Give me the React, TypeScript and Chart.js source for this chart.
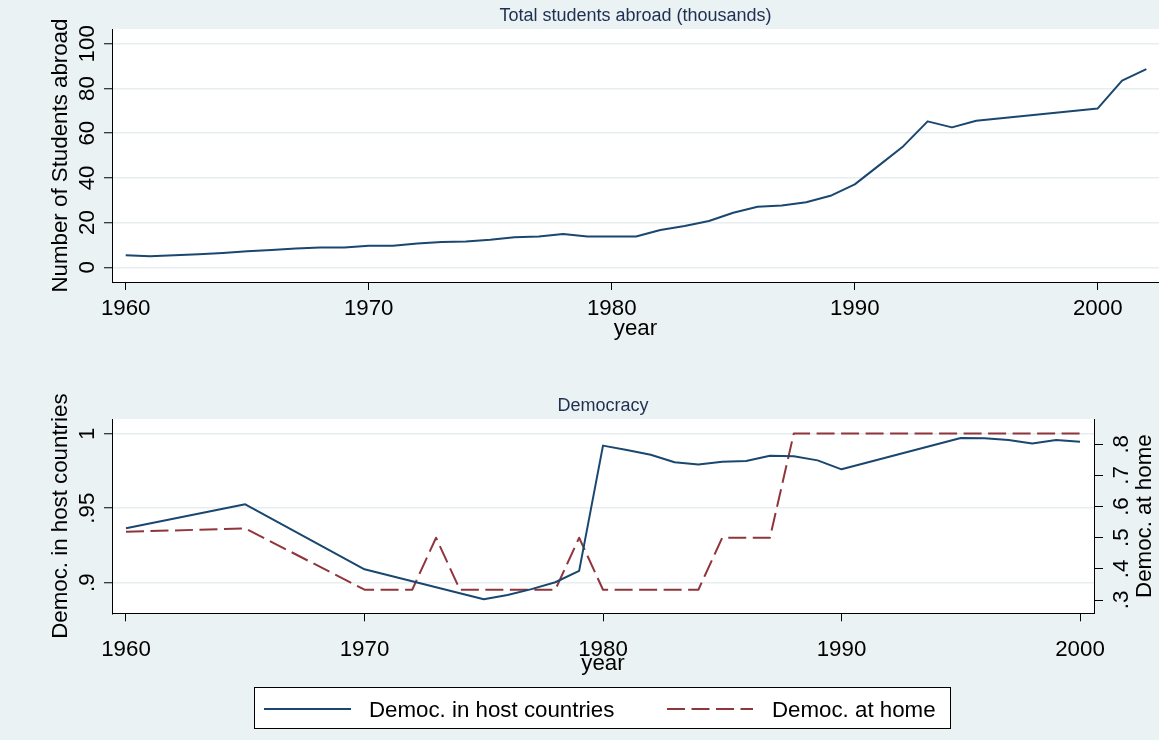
import React, { useEffect, useRef } from "react";
import { Chart, registerables } from "chart.js";

Chart.register(...registerables);

const FONT = "'Liberation Sans', Arial, Helvetica, sans-serif";
const NAVY = "#1a476f";
const MAROON = "#90353b";
const BG = "#eaf2f3";
const GRID = "#e6eef0";
const TITLE_COLOR = "#1f2f52";
const FS = 22.3;

// ---------- Top panel data ----------
const topYears = [
  1960, 1961, 1962, 1963, 1964, 1965, 1966, 1967, 1968, 1969,
  1970, 1971, 1972, 1973, 1974, 1975, 1976, 1977, 1978, 1979,
  1980, 1981, 1982, 1983, 1984, 1985, 1986, 1987, 1988, 1989,
  1990, 1991, 1992, 1993, 1994, 1995, 2000, 2001, 2002,
];
const studentsAbroad = [
  5.4, 5.0, 5.4, 5.8, 6.4, 7.2, 7.8, 8.4, 8.9, 8.9,
  9.7, 9.7, 10.7, 11.3, 11.6, 12.3, 13.5, 13.8, 14.9, 13.8,
  13.8, 13.8, 16.7, 18.5, 20.7, 24.4, 27.1, 27.7, 29.1, 32.0,
  37.1, 45.6, 54.2, 65.3, 62.6, 65.6, 71.1, 83.5, 88.7,
];
const topXTicks = [1960, 1970, 1980, 1990, 2000];
const topYTicks = [0, 20, 40, 60, 80, 100];
const topYTickLabels = ["0", "20", "40", "60", "80", "100"];

// ---------- Bottom panel data ----------
const hostYears = [
  1960, 1965, 1970, 1975, 1976, 1977, 1978, 1979, 1980, 1981, 1982,
  1983, 1984, 1985, 1986, 1987, 1988, 1989, 1990, 1995, 1996, 1997,
  1998, 1999, 2000,
];
const hostDemoc = [
  0.9365, 0.9526, 0.909, 0.8889, 0.8917, 0.8957, 0.9003, 0.9079, 0.992, 0.989, 0.9859,
  0.9808, 0.9794, 0.9812, 0.9817, 0.9852, 0.9848, 0.9821, 0.9761, 0.9971, 0.997, 0.9958,
  0.9935, 0.9958, 0.9946,
];
const homeYears = [
  1960, 1965, 1970, 1971, 1972, 1973, 1974, 1975, 1976, 1977, 1978, 1979,
  1980, 1981, 1982, 1983, 1984, 1985, 1986, 1987, 1988, 1989, 1990, 1991,
  1992, 1993, 1994, 1995, 1996, 1997, 1998, 1999, 2000,
];
const homeDemoc = [
  0.519, 0.53, 0.333, 0.333, 0.333, 0.5, 0.333, 0.333, 0.333, 0.333, 0.333, 0.5,
  0.333, 0.333, 0.333, 0.333, 0.333, 0.5, 0.5, 0.5, 0.835, 0.835, 0.835, 0.835,
  0.835, 0.835, 0.835, 0.835, 0.835, 0.835, 0.835, 0.835, 0.835,
];
const bottomXTicks = [1960, 1970, 1980, 1990, 2000];
const leftYTicks = [0.9, 0.95, 1];
const leftYTickLabels = [".9", ".95", "1"];
const rightYTicks = [0.3, 0.4, 0.5, 0.6, 0.7, 0.8];
const rightYTickLabels = [".3", ".4", ".5", ".6", ".7", ".8"];

const hostLabel = "Democ. in host countries";
const homeLabel = "Democ. at home";

type RotTick = { scaleId: string; side: "left" | "right"; offset: number; size: number };
type PluginCfg = {
  rotatedTicks: RotTick[];
  rightTitle?: { text: string; x: number; size: number; scaleId: string };
  legend?: {
    left: number; top: number; width: number; height: number;
    lineY: number; textY: number;
    items: { x1: number; x2: number; tx: number }[];
    size: number;
  };
};

function makeStataPlugin(cfg: PluginCfg) {
  return {
    id: "stataExtras",
    afterDraw(chart: any) {
      const ctx = chart.ctx as CanvasRenderingContext2D;
      ctx.save();
      cfg.rotatedTicks.forEach((r) => {
        const scale = chart.scales[r.scaleId];
        ctx.font = `${r.size}px ${FONT}`;
        ctx.fillStyle = "#000";
        ctx.textAlign = "center";
        ctx.textBaseline = "alphabetic";
        const bx = r.side === "left" ? scale.right - r.offset : scale.left + r.offset;
        scale.ticks.forEach((t: any) => {
          const py = scale.getPixelForValue(t.value);
          ctx.save();
          ctx.translate(bx, py);
          ctx.rotate(-Math.PI / 2);
          ctx.fillText(String(t.label), 0, 0);
          ctx.restore();
        });
      });
      if (cfg.rightTitle) {
        const rt = cfg.rightTitle;
        const scale = chart.scales[rt.scaleId];
        ctx.font = `${rt.size}px ${FONT}`;
        ctx.fillStyle = "#000";
        ctx.textAlign = "center";
        ctx.textBaseline = "alphabetic";
        ctx.save();
        ctx.translate(rt.x, (scale.top + scale.bottom) / 2);
        ctx.rotate(-Math.PI / 2);
        ctx.fillText(rt.text, 0, 0);
        ctx.restore();
      }
      if (cfg.legend) {
        const lg = cfg.legend;
        ctx.fillStyle = "#ffffff";
        ctx.fillRect(lg.left, lg.top, lg.width, lg.height);
        ctx.strokeStyle = "#000";
        ctx.lineWidth = 1;
        ctx.strokeRect(lg.left + 0.5, lg.top + 0.5, lg.width - 1, lg.height - 1);
        chart.data.datasets.forEach((ds: any, i: number) => {
          const it = lg.items[i];
          ctx.save();
          ctx.strokeStyle = ds.borderColor;
          ctx.lineWidth = ds.borderWidth;
          ctx.setLineDash(ds.borderDash || []);
          ctx.beginPath();
          ctx.moveTo(it.x1, lg.lineY);
          ctx.lineTo(it.x2, lg.lineY);
          ctx.stroke();
          ctx.restore();
          ctx.font = `${lg.size}px ${FONT}`;
          ctx.fillStyle = "#000";
          ctx.textAlign = "left";
          ctx.textBaseline = "alphabetic";
          ctx.fillText(ds.label, it.tx, lg.textY);
        });
      }
      ctx.restore();
    },
  };
}

function TopPanel() {
  const ref = useRef<HTMLCanvasElement | null>(null);
  useEffect(() => {
    if (!ref.current) return;
    const chart = new Chart(ref.current, {
      type: "line",
      data: {
        datasets: [
          {
            label: "Total students abroad",
            data: topYears.map((x, i) => ({ x, y: studentsAbroad[i] })),
            borderColor: NAVY,
            backgroundColor: NAVY,
            borderWidth: 2,
            pointRadius: 0,
            tension: 0,
            fill: false,
            borderJoinStyle: "round",
          } as any,
        ],
      },
      options: {
        animation: false,
        responsive: false,
        events: [],
        layout: { padding: { top: 0, left: 0, right: 0, bottom: 0 } },
        plugins: {
          legend: { display: false },
          tooltip: { enabled: false },
          title: {
            display: true,
            text: "Total students abroad (thousands)",
            fullSize: false,
            color: TITLE_COLOR,
            font: { size: 18, weight: "normal", family: FONT },
            padding: { top: 5, bottom: 2.5 },
          },
        },
        scales: {
          x: {
            type: "linear",
            min: 1959.436,
            max: 2002.52,
            afterBuildTicks: (s: any) => {
              s.ticks = topXTicks.map((v) => ({ value: v }));
            },
            afterFit: (s: any) => {
              s.height = 68;
            },
            ticks: {
              callback: (v: any) => String(v),
              font: { size: FS, family: FONT },
              color: "#000",
              padding: 5.5,
              maxRotation: 0,
              autoSkip: false,
            },
            grid: { drawOnChartArea: false, drawTicks: true, tickLength: 8, tickColor: "#000", tickWidth: 1 },
            border: { color: "#000", width: 1 },
            title: {
              display: true,
              text: "year",
              font: { size: FS, family: FONT },
              color: "#000",
              padding: { top: 0, bottom: 7.5 },
            },
          },
          y: {
            type: "linear",
            min: -6.57,
            max: 106.57,
            afterBuildTicks: (s: any) => {
              s.ticks = topYTicks.map((v) => ({ value: v }));
            },
            afterFit: (s: any) => {
              s.width = 112;
            },
            ticks: {
              display: false,
              callback: (v: any) => topYTickLabels[topYTicks.indexOf(v)],
            },
            grid: { color: GRID, lineWidth: 1.5, drawTicks: true, tickLength: 8, tickColor: "#000", tickWidth: 1 },
            border: { color: "#000", width: 1 },
            title: {
              display: true,
              text: "Number of Students abroad",
              font: { size: FS, family: FONT },
              color: "#000",
              padding: { top: 47, bottom: 0 },
            },
          },
        },
      } as any,
      plugins: [
        makeStataPlugin({
          rotatedTicks: [{ scaleId: "y", side: "left", offset: 18, size: FS }],
        }),
      ],
    });
    return () => chart.destroy();
  }, []);
  return (
    <canvas
      ref={ref}
      width={1159}
      height={350}
      style={{ position: "absolute", left: 0, top: 0, width: 1159, height: 350 }}
    />
  );
}

function BottomPanel() {
  const ref = useRef<HTMLCanvasElement | null>(null);
  useEffect(() => {
    if (!ref.current) return;
    const chart = new Chart(ref.current, {
      type: "line",
      data: {
        datasets: [
          {
            label: hostLabel,
            data: hostYears.map((x, i) => ({ x, y: hostDemoc[i] })),
            borderColor: NAVY,
            backgroundColor: NAVY,
            borderWidth: 2,
            pointRadius: 0,
            tension: 0,
            fill: false,
            yAxisID: "y",
            borderJoinStyle: "round",
          } as any,
          {
            label: homeLabel,
            data: homeYears.map((x, i) => ({ x, y: homeDemoc[i] })),
            borderColor: MAROON,
            backgroundColor: MAROON,
            borderWidth: 2,
            borderDash: [18, 6.5],
            pointRadius: 0,
            tension: 0,
            fill: false,
            yAxisID: "y1",
            borderJoinStyle: "round",
          } as any,
        ],
      },
      options: {
        animation: false,
        responsive: false,
        events: [],
        layout: { padding: { top: 40, left: 0, right: 0, bottom: 56.7 } },
        plugins: {
          legend: { display: false },
          tooltip: { enabled: false },
          title: {
            display: true,
            text: "Democracy",
            fullSize: false,
            color: TITLE_COLOR,
            font: { size: 18, weight: "normal", family: FONT },
            padding: { top: 5.2, bottom: 2.2 },
          },
        },
        scales: {
          x: {
            type: "linear",
            min: 1959.413,
            max: 2000.587,
            afterBuildTicks: (s: any) => {
              s.ticks = bottomXTicks.map((v) => ({ value: v }));
            },
            afterFit: (s: any) => {
              s.height = 70;
            },
            ticks: {
              callback: (v: any) => String(v),
              font: { size: FS, family: FONT },
              color: "#000",
              padding: 15.6,
              maxRotation: 0,
              autoSkip: false,
            },
            grid: { drawOnChartArea: false, drawTicks: true, tickLength: 8, tickColor: "#000", tickWidth: 1 },
            border: { color: "#000", width: 1 },
            title: {
              display: true,
              text: "year",
              font: { size: FS, family: FONT },
              color: "#000",
              padding: { top: 0, bottom: 6.2 },
            },
          },
          y: {
            type: "linear",
            position: "left",
            min: 0.87946,
            max: 1.00987,
            afterBuildTicks: (s: any) => {
              s.ticks = leftYTicks.map((v) => ({ value: v }));
            },
            afterFit: (s: any) => {
              s.width = 112;
            },
            ticks: {
              display: false,
              callback: (v: any) => leftYTickLabels[leftYTicks.indexOf(v)],
            },
            grid: { color: GRID, lineWidth: 1.5, drawTicks: true, tickLength: 8, tickColor: "#000", tickWidth: 1 },
            border: { color: "#000", width: 1 },
            title: {
              display: true,
              text: hostLabel,
              font: { size: FS, family: FONT },
              color: "#000",
              padding: { top: 47, bottom: 0 },
            },
          },
          y1: {
            type: "linear",
            position: "right",
            min: 0.2573,
            max: 0.8812,
            afterBuildTicks: (s: any) => {
              s.ticks = rightYTicks.map((v) => ({ value: v }));
            },
            afterFit: (s: any) => {
              s.width = 65;
            },
            ticks: {
              display: false,
              callback: (v: any) => rightYTickLabels[rightYTicks.indexOf(v)],
            },
            grid: { drawOnChartArea: false, drawTicks: true, tickLength: 9, tickColor: "#000", tickWidth: 1 },
            border: { color: "#000", width: 1 },
          },
        },
      } as any,
      plugins: [
        makeStataPlugin({
          rotatedTicks: [
            { scaleId: "y", side: "left", offset: 18, size: FS },
            { scaleId: "y1", side: "right", offset: 34, size: FS },
          ],
          rightTitle: { text: homeLabel, x: 1150.5, size: FS, scaleId: "y1" },
          legend: {
            left: 254,
            top: 337,
            width: 697,
            height: 42,
            lineY: 359,
            textY: 367,
            items: [
              { x1: 264, x2: 351, tx: 369 },
              { x1: 667, x2: 753, tx: 772 },
            ],
            size: FS,
          },
        }),
      ],
    });
    return () => chart.destroy();
  }, []);
  return (
    <canvas
      ref={ref}
      width={1159}
      height={390}
      style={{ position: "absolute", left: 0, top: 350, width: 1159, height: 390 }}
    />
  );
}

export default function App() {
  Chart.defaults.font.family = FONT;
  Chart.defaults.color = "#000";
  return (
    <div
      style={{
        position: "fixed",
        left: 0,
        top: 0,
        width: 1159,
        height: 740,
        background: BG,
        overflow: "hidden",
      }}
    >
      <div
        style={{
          position: "absolute",
          left: 112,
          top: 29,
          width: 1047,
          height: 253,
          background: "#ffffff",
        }}
      />
      <div
        style={{
          position: "absolute",
          left: 112,
          top: 419,
          width: 982,
          height: 194,
          background: "#ffffff",
        }}
      />
      <TopPanel />
      <BottomPanel />
    </div>
  );
}
